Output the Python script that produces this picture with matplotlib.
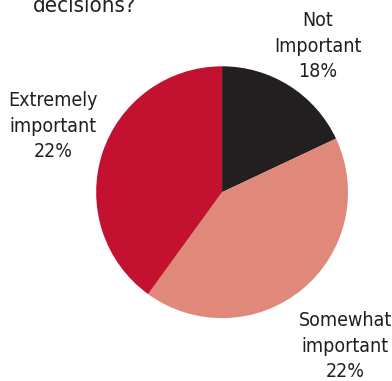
import matplotlib.pyplot as plt

# slice sizes as drawn (the printed labels read 18/22/22)
categories = ["Not\nImportant", "Somewhat\nimportant", "Extremely\nimportant"]
shares = [18, 42, 40]
label_pcts = ["18%", "22%", "22%"]
colors = ["#231f20", "#e0897b", "#c31230"]

plt.rcParams["font.family"] = ["DejaVu Sans"]

fig = plt.figure(figsize=(3.92, 3.81), dpi=100)
ax = fig.add_axes([0.245, 0.165, 0.643, 0.661])
ax.pie(shares, colors=colors, startangle=90, counterclock=False,
       wedgeprops=dict(linewidth=0))
ax.set_xlim(-1, 1)
ax.set_ylim(-1, 1)
ax.set_aspect("equal")

txt = dict(ha="center", va="center", fontsize=14, fontstretch="condensed",
           color="#231f20", linespacing=1.42)
pos = [(318, 46), (345, 346), (53, 126)]
for (x, y), c, p in zip(pos, categories, label_pcts):
    fig.text(x / 392, 1 - y / 381, c + "\n" + p, **txt)

# title is cut off by the top edge, only its last line shows
fig.text(85 / 392, 1 - 12 / 381, "decisions?", ha="center", va="baseline",
         fontsize=16, fontstretch="condensed", color="#231f20")

fig.savefig("out.png", dpi=100)
